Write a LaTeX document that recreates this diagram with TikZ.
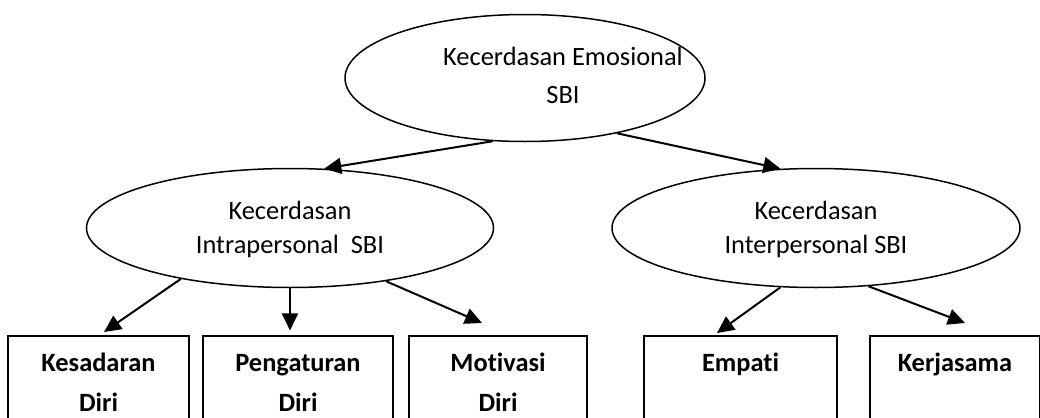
\documentclass[tikz,border=0pt]{standalone}
\usepackage{fontspec}
\setmainfont{Carlito}[Ligatures=NoCommon]
\usetikzlibrary{arrows.meta,shapes.geometric}
\begin{document}
\begin{tikzpicture}[x=0.5pt,y=-0.5pt,
		oval/.style = {draw, ellipse, line width=0.75pt, inner sep=0pt, align=center, font=\fontsize{13.2}{20}\selectfont},
		box/.style = {draw, rectangle, line width=0.9pt, minimum height=46pt, align=center, font=\fontsize{13.2}{20}\selectfont\bfseries},
		arr/.style = {-{Triangle[length=8.5pt,width=8pt]}, line width=1pt}]
		\clip (0,0) rectangle (1040,418);
		\node[oval, minimum width=180pt, minimum height=63.5pt] (emo) at (525,78) {};
		\node[align=center, inner sep=0pt, font=\fontsize{13.2}{19}\selectfont] (emotext) at (563,77) {\strut Kecerdasan Emosional\\\strut SBI};
		\node[oval, minimum width=203.5pt, minimum height=59.5pt] (intra) at (290,228) {\strut Kecerdasan\\[-3pt]\strut Intrapersonal\ \ SBI};
		\node[oval, minimum width=204pt, minimum height=59.5pt] (inter) at (816,228) {\strut Kecerdasan\\[-3pt]\strut Interpersonal SBI};
		\node[box, minimum width=90.5pt] (b1) at (98.5,383) {\strut Kesadaran\\\strut Diri};
		\node[box, minimum width=95pt] (b2) at (298,383) {\strut Pengaturan\\\strut Diri};
		\node[box, minimum width=89pt] (b3) at (498,383) {\strut Motivasi\\\strut Diri};
		\node[box, minimum width=96.5pt] (b4) at (740.5,383) {\strut Empati\\\strut};
		\node[box, minimum width=85pt] (b5) at (955,383) {\strut Kerjasama\\\strut};
		\coordinate (t1) at (104,332);
		\coordinate (t3) at (482,323);
		\coordinate (t4) at (717,333);
		\coordinate (t5) at (965,323);
		\draw[arr] (emo.243) -- (intra.60);
		\draw[arr] (emo.-31) -- (inter.121);
		\draw[arr] (intra.205) -- (t1);
		\draw[arr] (intra.south) -- ([yshift=2.5pt]intra.south |- b2.north);
		\draw[arr] (intra.-29) -- (t3);
		\draw[arr] (inter.239) -- (t4);
		\draw[arr] (inter.-48) -- (t5);
	\end{tikzpicture}
\end{document}
